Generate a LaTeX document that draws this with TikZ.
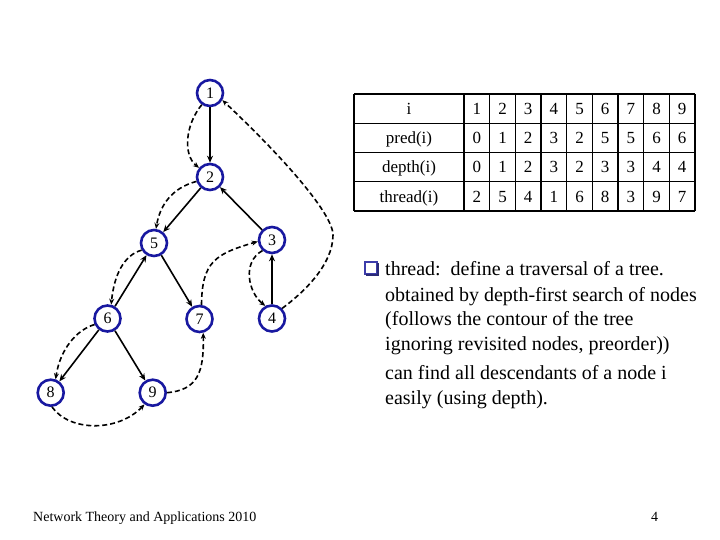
\documentclass[tikz,border=0pt]{standalone}
\usepackage{fontspec}
\setmainfont{Liberation Serif}
\usetikzlibrary{arrows.meta}
\definecolor{nodeblue}{RGB}{24,24,160}
\definecolor{bulletblue}{RGB}{60,60,170}
\begin{document}
\begin{tikzpicture}[x=1bp,y=-1bp,
  vert/.style={circle,draw=nodeblue,line width=2.6bp,fill=white,minimum size=26bp,inner sep=0pt,font=\fontsize{16bp}{16bp}\selectfont},
  treeedge/.style={line width=1.6bp,-{Stealth[length=7bp,width=6bp]}},
  threadedge/.style={line width=1.6bp,dash pattern=on 5bp off 3bp,-{Stealth[length=6bp,width=5bp]}},
  cell/.style={anchor=base,inner sep=0pt,font=\fontsize{17bp}{17bp}\selectfont},
  bodytext/.style={anchor=base west,inner sep=0pt,font=\fontsize{20bp}{20bp}\selectfont},
  foot/.style={anchor=base west,inner sep=0pt,font=\fontsize{14bp}{14bp}\selectfont},
  grid/.style={line width=1.1bp,black}]
\useasboundingbox (0,0) rectangle (720,540);

% tree nodes
\node[vert] (n1) at (210,93) {1};
\node[vert] (n2) at (210,177) {2};
\node[vert] (n3) at (272,240) {3};
\node[vert] (n5) at (154,243) {5};
\node[vert] (n6) at (107.5,318.5) {6};
\node[vert] (n7) at (199.5,319) {7};
\node[vert] (n4) at (272,318.5) {4};
\node[vert] (n8) at (50.7,392.7) {8};
\node[vert] (n9) at (152.7,392.7) {9};

% tree edges
\draw[treeedge] (n1) -- (n2);
\draw[treeedge] (n2) -- (n5);
\draw[treeedge] (n3) -- (n2);
\draw[treeedge] (n6) -- (n5);
\draw[treeedge] (n5) -- (n7);
\draw[treeedge] (n6) -- (n8);
\draw[treeedge] (n6) -- (n9);
\draw[treeedge] (n4) -- (n3);

% thread edges
\draw[threadedge] (n1.235) .. controls (185,125) and (183,155) .. (n2.140);
\draw[threadedge] (n2.198) .. controls (172,188) and (160,205) .. (n5.82);
\draw[threadedge] (n5.210) .. controls (124,255) and (114,275) .. (n6.75);
\draw[threadedge] (n6.205) .. controls (76,330) and (60,350) .. (n8.70);
\draw[threadedge] (n8.275) .. controls (70,432) and (118,432) .. (n9.235);
\draw[threadedge] (n9.0) .. controls (198,390) and (204,372) .. (n7.-75);
\draw[threadedge] (n7.82) .. controls (202,262) and (215,254) .. (n3.186);
\draw[threadedge] (n3.228) .. controls (242,262) and (248,292) .. (n4.118);
\draw[threadedge] (n4.45) .. controls (303,293) and (333,265) .. (333,235)
   .. controls (333,215) and (288,162) .. (n1.-30);

% table
\foreach \yy in {94,123.25,152.5,181.75,211} \draw[grid] (354,\yy) -- (695,\yy);
\draw[grid] (354,94) -- (354,211);
\foreach \k in {0,...,9} \draw[grid] ({464+25.67*\k},94) -- ({464+25.67*\k},211);

\node[cell] (h0) at (409,114.4) {i};
\node[cell] (h1) at (409,143.7) {pred(i)};
\node[cell] (h2) at (409,172.9) {depth(i)};
\node[cell] (h3) at (409,202.2) {thread(i)};
\foreach \v [count=\k] in {1,2,3,4,5,6,7,8,9}
  \node[cell] (ca\k) at ({464+25.67*(\k-0.5)},114.4) {\v};
\foreach \v [count=\k] in {0,1,2,3,2,5,5,6,6}
  \node[cell] (cb\k) at ({464+25.67*(\k-0.5)},143.7) {\v};
\foreach \v [count=\k] in {0,1,2,3,2,3,3,4,4}
  \node[cell] (cc\k) at ({464+25.67*(\k-0.5)},172.9) {\v};
\foreach \v [count=\k] in {2,5,4,1,6,8,3,9,7}
  \node[cell] (cd\k) at ({464+25.67*(\k-0.5)},202.2) {\v};

% bullet
\draw[bulletblue,line width=1.2bp] (365,262) rectangle (377,274);
\draw[bulletblue!70!black,line width=1.4bp] (366,275) -- (378,275) -- (378,263);

% text
\node[bodytext] (t1) at (385,275.5) {thread:\ \ define a traversal of a tree.};
\node[bodytext] (t2) at (385,301) {obtained by depth-first search of nodes};
\node[bodytext] (t3) at (385,325.5) {(follows the contour of the tree};
\node[bodytext] (t4) at (385,350) {ignoring revisited nodes, preorder))};
\node[bodytext] (t5) at (385,379) {can find all descendants of a node i};
\node[bodytext] (t6) at (385,404) {easily (using depth).};

% footer
\node[foot] (f1) at (33,521) {Network Theory and Applications 2010};
\node[foot] (f2) at (651,521) {4};
\end{tikzpicture}
\end{document}
